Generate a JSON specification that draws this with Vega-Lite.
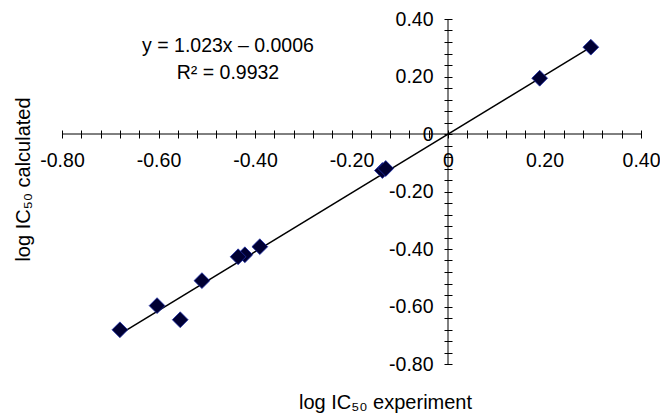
{
  "$schema": "https://vega.github.io/schema/vega-lite/v6.json",
  "width": 579,
  "height": 345,
  "autosize": {"type": "none"},
  "padding": {"left": 62, "top": 19, "right": 19, "bottom": 50},
  "config": {"view": {"stroke": null}, "font": "Liberation Sans"},
  "datasets": {
    "points": [
      {"x": 0.296, "y": 0.302},
      {"x": 0.190, "y": 0.194},
      {"x": -0.136, "y": -0.127},
      {"x": -0.129, "y": -0.120},
      {"x": -0.390, "y": -0.392},
      {"x": -0.421, "y": -0.420},
      {"x": -0.435, "y": -0.427},
      {"x": -0.510, "y": -0.510},
      {"x": -0.603, "y": -0.597},
      {"x": -0.555, "y": -0.646},
      {"x": -0.680, "y": -0.681}
    ],
    "trend": [
      {"x": -0.680, "y": -0.6962},
      {"x": 0.296, "y": 0.3022}
    ]
  },
  "layer": [
    {
      "data": {"values": [{}]},
      "mark": {"type": "rule", "color": "#000000", "strokeWidth": 1},
      "encoding": {
        "y": {"datum": 0, "type": "quantitative", "scale": {"domain": [-0.8, 0.4], "nice": false, "zero": false}}
      }
    },
    {
      "data": {"values": [{}]},
      "mark": {"type": "rule", "color": "#000000", "strokeWidth": 1},
      "encoding": {
        "x": {"datum": 0, "type": "quantitative", "scale": {"domain": [-0.8, 0.4], "nice": false, "zero": false}}
      }
    },
    {
      "data": {"name": "trend"},
      "mark": {"type": "line", "color": "#000000", "strokeWidth": 1.5},
      "encoding": {
        "x": {"field": "x", "type": "quantitative", "scale": {"domain": [-0.8, 0.4], "nice": false, "zero": false}},
        "y": {"field": "y", "type": "quantitative", "scale": {"domain": [-0.8, 0.4], "nice": false, "zero": false}}
      }
    },
    {
      "data": {"name": "points"},
      "mark": {"type": "point", "shape": "diamond", "filled": true, "size": 250, "fill": "#000033", "stroke": "#1f2fa8", "strokeWidth": 0.8, "opacity": 1},
      "encoding": {
        "x": {
          "field": "x", "type": "quantitative",
          "scale": {"domain": [-0.8, 0.4], "nice": false, "zero": false},
          "axis": {
            "orient": "bottom",
            "offset": -234,
            "domain": false,
            "grid": false,
            "tickCount": 100,
            "values": [-0.8, -0.76, -0.72, -0.68, -0.64, -0.6, -0.56, -0.52, -0.48, -0.44, -0.4, -0.36, -0.32, -0.28, -0.24, -0.2, -0.16, -0.12, -0.08, -0.04, 0, 0.04, 0.08, 0.12, 0.16, 0.2, 0.24, 0.28, 0.32, 0.36, 0.4],
            "labelExpr": "round(datum.value*100) % 20 == 0 ? (datum.value == 0 ? '0' : replace(format(datum.value, '.2f'), '\u2212', '-')) : ''",
            "tickSize": 8,
            "tickColor": "#000000",
            "tickWidth": 1,
            "labelFontSize": 19.5,
            "labelColor": "#000000",
            "labelPadding": 13,
            "labelOverlap": false,
            "labelBound": false,
            "labelFlush": false,
            "title": "log IC₅₀ experiment",
            "titleFontSize": 20,
            "titleFontWeight": "normal",
            "titleColor": "#000000",
            "titleX": 323,
            "titleY": 278,
            "titleAlign": "center",
            "titleBaseline": "alphabetic",
            "titleAngle": 0
          }
        },
        "y": {
          "field": "y", "type": "quantitative",
          "scale": {"domain": [-0.8, 0.4], "nice": false, "zero": false},
          "axis": {
            "orient": "left",
            "offset": -390,
            "domain": false,
            "grid": false,
            "tickCount": 100,
            "values": [-0.8, -0.76, -0.72, -0.68, -0.64, -0.6, -0.56, -0.52, -0.48, -0.44, -0.4, -0.36, -0.32, -0.28, -0.24, -0.2, -0.16, -0.12, -0.08, -0.04, 0, 0.04, 0.08, 0.12, 0.16, 0.2, 0.24, 0.28, 0.32, 0.36, 0.4],
            "labelExpr": "round(datum.value*100) % 20 == 0 ? (datum.value == 0 ? '0' : replace(format(datum.value, '.2f'), '\u2212', '-')) : ''",
            "tickSize": 8,
            "tickColor": "#000000",
            "tickWidth": 1,
            "labelFontSize": 19.5,
            "labelColor": "#000000",
            "labelPadding": 11,
            "labelOverlap": false,
            "labelBound": false,
            "labelFlush": false,
            "title": "log IC₅₀ calculated",
            "titleFontSize": 20,
            "titleFontWeight": "normal",
            "titleColor": "#000000",
            "titleX": -423,
            "titleY": 160,
            "titleAlign": "center",
            "titleBaseline": "alphabetic",
            "titleAngle": -90
          }
        }
      }
    },
    {
      "data": {"values": [{}]},
      "mark": {"type": "text", "text": "y = 1.023x – 0.0006", "font": "Liberation Sans", "fontSize": 19.5, "align": "center", "baseline": "alphabetic", "color": "#000000"},
      "encoding": {
        "x": {"datum": -0.456, "type": "quantitative", "scale": {"domain": [-0.8, 0.4], "nice": false, "zero": false}},
        "y": {"datum": 0.285, "type": "quantitative", "scale": {"domain": [-0.8, 0.4], "nice": false, "zero": false}}
      }
    },
    {
      "data": {"values": [{}]},
      "mark": {"type": "text", "text": "R² = 0.9932", "font": "Liberation Sans", "fontSize": 19.5, "align": "center", "baseline": "alphabetic", "color": "#000000"},
      "encoding": {
        "x": {"datum": -0.456, "type": "quantitative", "scale": {"domain": [-0.8, 0.4], "nice": false, "zero": false}},
        "y": {"datum": 0.191, "type": "quantitative", "scale": {"domain": [-0.8, 0.4], "nice": false, "zero": false}}
      }
    }
  ]
}
